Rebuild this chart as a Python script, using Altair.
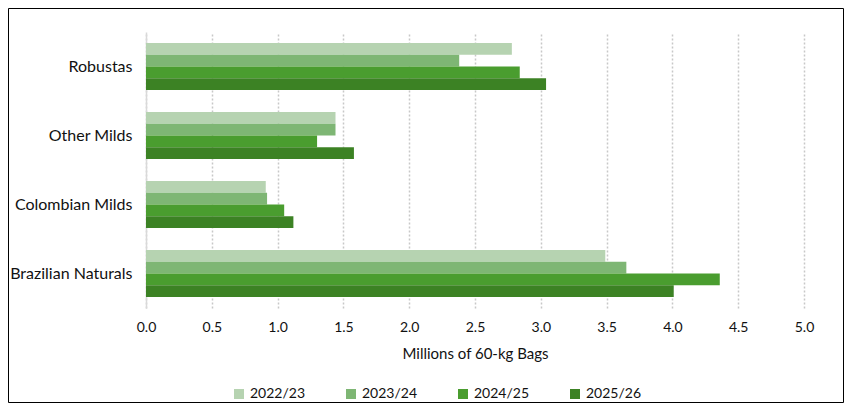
import altair as alt
import pandas as pd

categories = ["Robustas", "Other Milds", "Colombian Milds", "Brazilian Naturals"]
seasons = ["2022/23", "2023/24", "2024/25", "2025/26"]
s2022_23 = [2.78, 1.44, 0.91, 3.49]
s2023_24 = [2.38, 1.44, 0.92, 3.65]
s2024_25 = [2.84, 1.30, 1.05, 4.36]
s2025_26 = [3.04, 1.58, 1.12, 4.01]
colors = ["#b6d3b1", "#7eb674", "#4a9d2f", "#3c8224"]
x_ticks = [0, 0.5, 1, 1.5, 2, 2.5, 3, 3.5, 4, 4.5, 5]

series = [s2022_23, s2023_24, s2024_25, s2025_26]
rows = []
for season, vals in zip(seasons, series):
    for cat, v in zip(categories, vals):
        rows.append({"category": cat, "season": season, "value": v})
df = pd.DataFrame(rows)

FONT = "Lato"
TXT = "#111111"
W, H = 658, 276

bars = alt.Chart(df).mark_bar().encode(
    y=alt.Y("category:N", sort=categories,
            scale=alt.Scale(paddingInner=0.32, paddingOuter=0.16),
            axis=alt.Axis(title=None, ticks=False, labelPadding=14, domain=True,
                          domainColor="#d9d9d9", domainWidth=1.5,
                          labelFontSize=16, labelColor=TXT, labelFont=FONT)),
    yOffset=alt.YOffset("season:N", sort=seasons),
    x=alt.X("value:Q", scale=alt.Scale(domain=[0, 5], nice=False),
            axis=alt.Axis(title="Millions of 60-kg Bags", values=x_ticks, format=".1f",
                          ticks=False, domain=False, labelPadding=12, labelFlush=False,
                          labelFontSize=14, labelColor=TXT, labelFont=FONT,
                          titleFontSize=15, titleFont=FONT, titleFontWeight="normal",
                          titleColor=TXT, titlePadding=12,
                          grid=True, gridColor="#c8c8c8", gridDash=[2, 2], gridWidth=1.5)),
    color=alt.Color("season:N", sort=seasons,
                    scale=alt.Scale(domain=seasons, range=colors),
                    legend=alt.Legend(title=None, orient="none", direction="horizontal",
                                      legendX=86, legendY=355, symbolType="square",
                                      symbolSize=100, symbolStrokeWidth=0,
                                      labelFontSize=14, labelFont=FONT, labelColor=TXT,
                                      columnPadding=38, symbolOffset=0, labelOffset=4)),
)

frame = alt.Chart(pd.DataFrame({"a": [0]})).mark_rect(
    fill=None, stroke="#000000", strokeWidth=1
).encode(
    x=alt.value(-137.5), x2=alt.value(W + 39.5),
    y=alt.value(-23.5), y2=alt.value(H + 94.5)
)

chart = alt.layer(bars, frame).properties(
    width=W, height=H,
    autosize=alt.AutoSizeParams(type="none"),
    padding={"left": 138, "top": 24, "right": 41, "bottom": 96},
    background="#ffffff",
).configure_view(stroke=None)

chart.save("out.html", embed_options={"renderer": "svg", "actions": False})
